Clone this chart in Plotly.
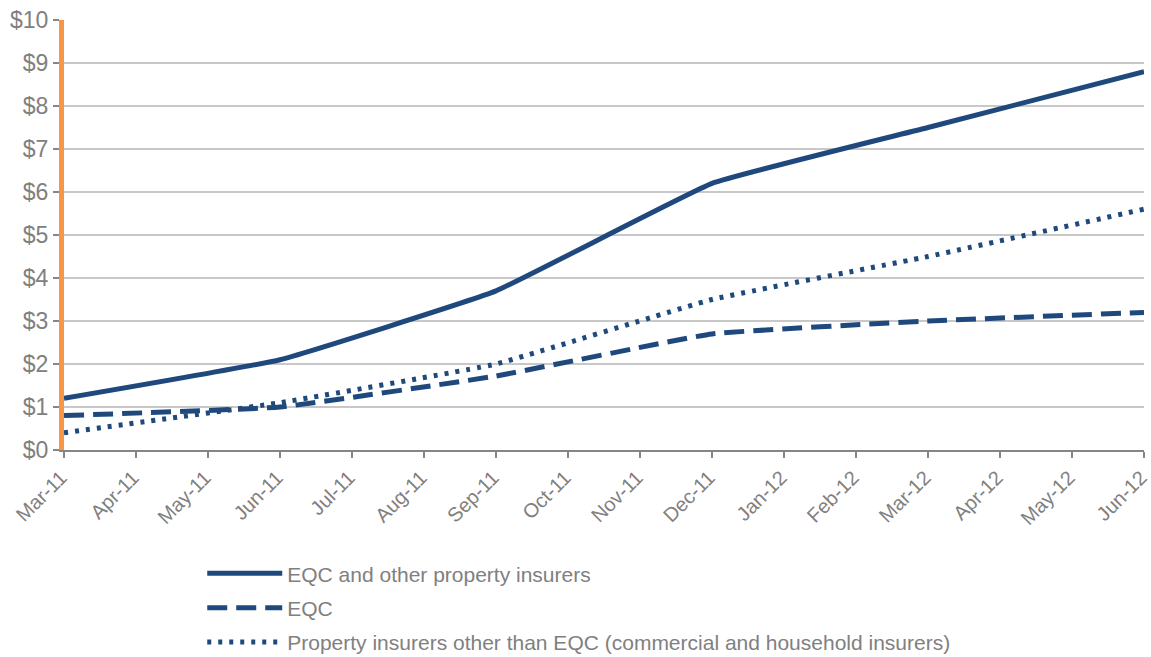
import plotly.graph_objects as go

months = ["Mar-11", "Apr-11", "May-11", "Jun-11", "Jul-11", "Aug-11", "Sep-11", "Oct-11",
          "Nov-11", "Dec-11", "Jan-12", "Feb-12", "Mar-12", "Apr-12", "May-12", "Jun-12"]
N = None
eqc_and_other = [1.2, N, N, 2.1, N, N, 3.7, N, N, 6.2, N, N, 7.5, N, N, 8.8]
eqc = [0.8, N, N, 1.0, N, N, 1.72, N, N, 2.7, N, N, 3.0, N, N, 3.2]
other_than_eqc = [0.4, N, N, 1.1, N, N, 2.0, N, N, 3.5, N, N, 4.5, N, N, 5.6]
y_ticks = list(range(0, 11))
y_labels = [f"${v}" for v in y_ticks]

blue = "#1F497D"
grey_text = "#808080"

fig = go.Figure()
series = [
    ("EQC and other property insurers", eqc_and_other, "solid"),
    ("EQC", eqc, "20px,9px"),
    ("Property insurers other than EQC (commercial and household insurers)", other_than_eqc, "4px,7px"),
]
for i, (name, vals, dash) in enumerate(series):
    fig.add_trace(go.Scatter(
        x=months, y=vals, name=name, mode="lines", connectgaps=True,
        line=dict(color=blue, width=5, dash=dash, shape="spline", smoothing=0.3),
        legendgroup=f"g{i}", hoverinfo="skip",
    ))

fig.update_layout(
    width=1151, height=657,
    margin=dict(l=64, r=7, t=20, b=207),
    plot_bgcolor="white", paper_bgcolor="white",
    font=dict(family="Liberation Sans, Arial, sans-serif", color=grey_text, size=20),
    showlegend=True,
    legend=dict(x=0.128, y=0.158, xref="paper", yref="container",
                xanchor="left", yanchor="top",
                orientation="v", tracegroupgap=4, itemwidth=75,
                font=dict(size=21, color=grey_text), bgcolor="rgba(0,0,0,0)"),
    xaxis=dict(
        type="category", categoryorder="array", categoryarray=months,
        range=[0, len(months) - 1], automargin=False,
        tickangle=-45, tickfont=dict(size=20, color=grey_text),
        ticklabelshift=-3,
        ticks="outside", ticklen=6, tickwidth=2, tickcolor="#868686",
        showline=True, linecolor="#868686", linewidth=2,
        showgrid=False, zeroline=False,
    ),
    yaxis=dict(
        range=[0, 10], tickvals=y_ticks, ticktext=y_labels, automargin=False,
        tickfont=dict(size=23, color=grey_text),
        ticks="outside", ticklen=6, tickwidth=2, tickcolor="#868686",
        showline=True, linecolor="#F79646", linewidth=5,
        showgrid=True, gridcolor="#C8C8C8", gridwidth=2,
        zeroline=False,
    ),
)

fig.write_html("out.html")
